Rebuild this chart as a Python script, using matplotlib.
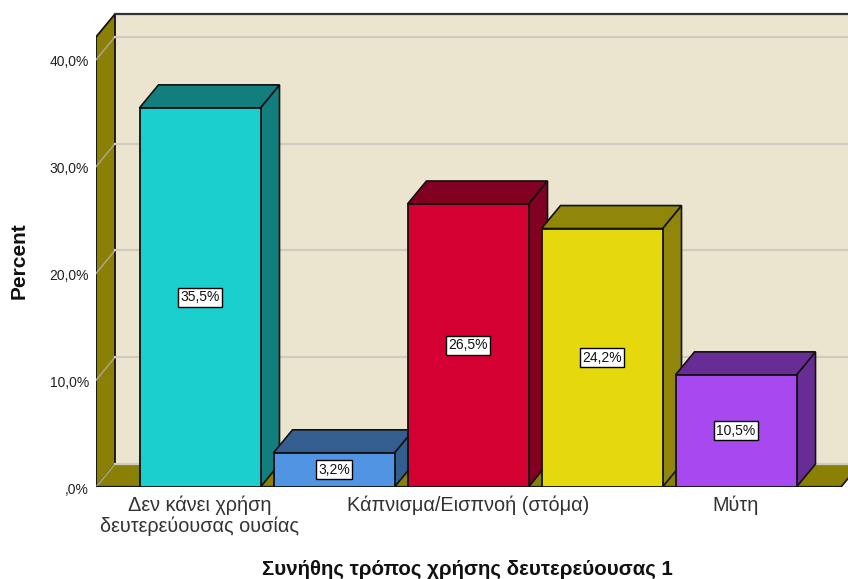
import numpy as np
import matplotlib
matplotlib.use("Agg")
import matplotlib.pyplot as plt
from matplotlib.patches import Polygon, Rectangle
from matplotlib.transforms import ScaledTranslation

plt.rcParams['font.family'] = ['Liberation Sans', 'DejaVu Sans']

# dados
categorias = ["Δεν κάνει χρήση\nδευτερεύουσας ουσίας", "", "Κάπνισμα/Εισπνοή (στόμα)", "", "Μύτη"]
valores = [35.5, 3.2, 26.5, 24.2, 10.5]
rotulos = ["35,5%", "3,2%", "26,5%", "24,2%", "10,5%"]
cores_frente = ["#1BCFCF", "#5294E4", "#D50032", "#E5D80D", "#A849F0"]
cores_lado = ["#127E7E", "#345E90", "#820022", "#8F860A", "#682D94"]
y_ticks = [0, 10, 20, 30, 40]
y_labels = [",0%", "10,0%", "20,0%", "30,0%", "40,0%"]

W, H = 848, 579
fig = plt.figure(figsize=(W / 100, H / 100), dpi=100)

# area do grafico em pixels
esq, dir_, base, topo = 96, 848, 487, 14
ax = fig.add_axes([esq / W, (H - base) / H, (dir_ - esq) / W, (base - topo) / H])

passo = 134.0
px_y = 10.68
ax.set_xlim((esq - 200) / passo, (dir_ - 200) / passo)
ax.set_ylim(0, (base - topo) / px_y)

# profundidade 3D
dx = 19 / passo
dy = 23 / px_y
larg = 121 / passo
xmin = ax.get_xlim()[0]
xmax = (841 - 200) / passo
ytop = ax.get_ylim()[1] - dy

borda = "#111111"
parede = "#8B8006"
fundo = "#EBE5D0"
grade = "#CFCBBE"

# parede do fundo
ax.add_patch(Rectangle((xmin + dx, dy), xmax - xmin, ytop, fc=fundo, ec="none", zorder=1))
ax.plot([xmin + dx, xmin + dx + 6], [ytop + dy, ytop + dy], color="#333333", lw=1.6, zorder=4, clip_on=False)

# parede esquerda e chao
ax.add_patch(Polygon([(xmin, 0), (xmin + dx, dy), (xmin + dx, ytop + dy), (xmin, ytop)],
                     fc=parede, ec=borda, lw=1.3, zorder=2))
ax.add_patch(Polygon([(xmin, 0), (xmax, 0), (xmax + dx, dy), (xmin + dx, dy)],
                     fc=parede, ec="none", zorder=2))

# linhas de grade
for t in y_ticks:
    ax.plot([xmin, xmin + dx], [t, t + dy], color="#A9A68E", lw=1.1, zorder=3)
    ax.plot([xmin + dx, xmax + dx], [t + dy, t + dy], color=grade, lw=1.6, zorder=3)

ax.plot([xmin, xmax], [0, 0], color=borda, lw=1.6, zorder=4)
ax.plot([xmax, xmax + dx], [0, dy], color=borda, lw=1.2, zorder=4)

# barras, da esquerda para a direita
for i, v in enumerate(valores):
    x0 = i - larg / 2
    x1 = i + larg / 2
    z = 5 + i
    ax.add_patch(Polygon([(x1, 0), (x1 + dx, dy), (x1 + dx, v + dy), (x1, v)],
                         fc=cores_lado[i], ec=borda, lw=1.2, zorder=z))
    ax.add_patch(Polygon([(x0, v), (x0 + dx, v + dy), (x1 + dx, v + dy), (x1, v)],
                         fc=cores_lado[i], ec=borda, lw=1.2, zorder=z))
    ax.add_patch(Rectangle((x0, 0), larg, v, fc=cores_frente[i], ec=borda, lw=1.3, zorder=z))
    ax.text(i, v / 2, rotulos[i], ha="center", va="center", fontsize=10, color="#111111", zorder=20,
            bbox=dict(boxstyle="square,pad=0.18", fc="white", ec="black", lw=1))

ax.set_xticks(range(len(categorias)))
ax.set_xticklabels(categorias, fontsize=14.3, color="#333333", linespacing=1.12)
ax.set_yticks(y_ticks)
ax.set_yticklabels(y_labels, fontsize=10, color="#222222")
ax.tick_params(axis="x", length=0, pad=6)
ax.tick_params(axis="y", length=0, pad=5)
# desce 1 px os rotulos do eixo y
desloca = ScaledTranslation(0, -1 / 100, fig.dpi_scale_trans)
for lb in ax.get_yticklabels():
    lb.set_transform(lb.get_transform() + desloca)
for s in ax.spines.values():
    s.set_visible(False)

fig.text(19 / W, 1 - 261 / H, "Percent", rotation=90, ha="center", va="center",
         fontsize=15, fontweight="bold", color="#111111")
fig.text(467 / W, 1 - 569 / H, "Συνήθης τρόπος χρήσης δευτερεύουσας 1", ha="center", va="center",
         fontsize=14.8, fontweight="bold", color="#111111")

fig.savefig("out.png", dpi=100)
